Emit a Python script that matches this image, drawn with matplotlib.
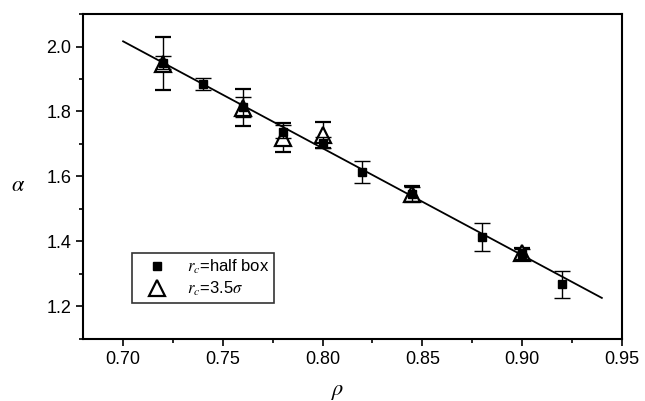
import numpy as np
import matplotlib
matplotlib.use('Agg')
import matplotlib.pyplot as plt
from matplotlib.ticker import MultipleLocator
from matplotlib.lines import Line2D

plt.rcParams['font.family'] = ['Liberation Sans', 'DejaVu Sans']
plt.rcParams['mathtext.fontset'] = 'stix'

# r_c = half box (filled squares)
sq_rho = [0.72, 0.74, 0.76, 0.78, 0.80, 0.82, 0.845, 0.88, 0.90, 0.92]
sq_alpha = [1.950, 1.884, 1.815, 1.738, 1.704, 1.614, 1.547, 1.413, 1.362, 1.268]
sq_err = [0.020, 0.019, 0.031, 0.020, 0.016, 0.035, 0.022, 0.043, 0.016, 0.042]

# r_c = 3.5 sigma (open triangles)
tri_rho = [0.72, 0.76, 0.78, 0.80, 0.845, 0.90]
tri_alpha = [1.947, 1.812, 1.719, 1.729, 1.547, 1.363]
tri_err = [0.081, 0.056, 0.045, 0.040, 0.025, 0.018]

# linear fit
fit_rho = [0.70, 0.94]
fit_alpha = [2.016, 1.226]

fig = plt.figure(figsize=(6.45, 4.01), dpi=100)
ax = fig.add_axes([0.129, 0.155, 0.835, 0.81])

ax.plot(fit_rho, fit_alpha, color='black', lw=1.3, zorder=2)

ax.errorbar(tri_rho, tri_alpha, yerr=tri_err, fmt='^', ms=11, mfc='white',
            mec='black', mew=1.6, ecolor='black', elinewidth=1.0, capsize=6,
            capthick=1.0, zorder=3)
ax.errorbar(sq_rho, sq_alpha, yerr=sq_err, fmt='s', ms=5.5, mfc='black',
            mec='black', ecolor='black', elinewidth=1.0, capsize=6,
            capthick=1.0, zorder=4)

ax.set_xlim(0.68, 0.95)
ax.set_ylim(1.10, 2.10)
ax.xaxis.set_major_locator(MultipleLocator(0.05))
ax.xaxis.set_minor_locator(MultipleLocator(0.025))
ax.yaxis.set_major_locator(MultipleLocator(0.2))
ax.yaxis.set_minor_locator(MultipleLocator(0.1))
ax.xaxis.set_major_formatter(plt.FormatStrFormatter('%.2f'))
ax.yaxis.set_major_formatter(plt.FormatStrFormatter('%.1f'))
ax.tick_params(which='both', direction='out', top=False, right=False,
               labelsize=13, width=1.2)
ax.tick_params(which='major', length=5)
ax.tick_params(which='minor', length=3)
for s in ax.spines.values():
    s.set_linewidth(1.5)

ax.set_xlabel(r'$\rho$', fontsize=16)
ax.set_ylabel(r'$\alpha$', fontsize=16, rotation=0)
ax.xaxis.set_label_coords(0.473, -0.13)
ax.yaxis.set_label_coords(-0.12, 0.44)

handles = [Line2D([], [], ls='none', marker='s', ms=6, mfc='black', mec='black'),
           Line2D([], [], ls='none', marker='^', ms=12, mfc='white', mec='black', mew=1.6)]
labels = [r'$r_c$=half box', r'$r_c$=3.5$\sigma$']
leg = ax.legend(handles, labels, loc='lower left', bbox_to_anchor=(0.091, 0.111),
                borderaxespad=0, fontsize=12, frameon=True, fancybox=False,
                edgecolor='black', handletextpad=0.6, borderpad=0.3,
                labelspacing=0.2, handlelength=2.4)
leg.get_frame().set_linewidth(1.2)

fig.savefig('out.png', dpi=100)
